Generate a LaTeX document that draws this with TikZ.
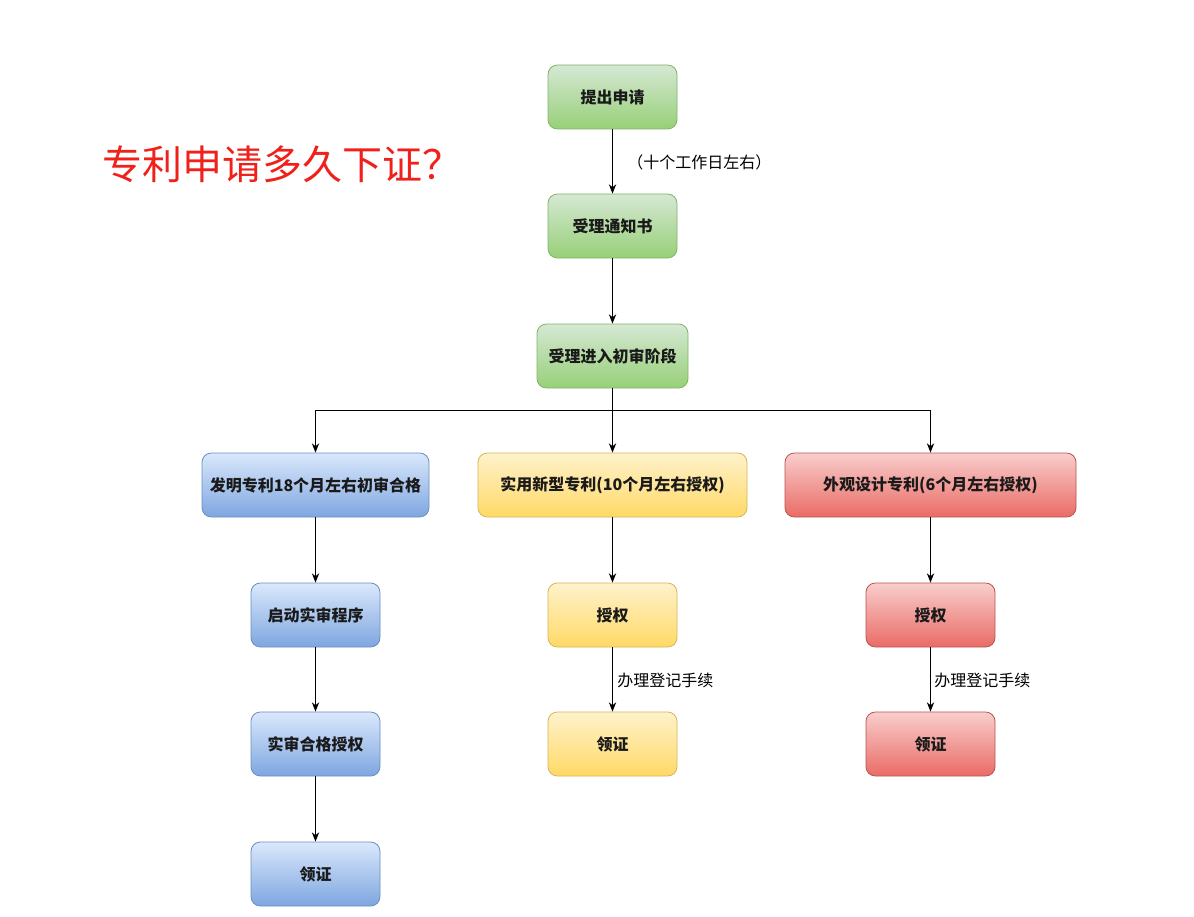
\documentclass[tikz,border=0pt]{standalone}
\usepackage{fontspec}
\setmainfont{Noto Sans CJK SC}
\usetikzlibrary{arrows.meta}
\definecolor{gT}{HTML}{D5E8D4}\definecolor{gB}{HTML}{97D077}\definecolor{gD}{HTML}{82B366}
\definecolor{bT}{HTML}{DAE8FC}\definecolor{bB}{HTML}{7EA6E0}\definecolor{bD}{HTML}{6C8EBF}
\definecolor{yT}{HTML}{FFF2CC}\definecolor{yB}{HTML}{FFD966}\definecolor{yD}{HTML}{D6B656}
\definecolor{rT}{HTML}{F8CECC}\definecolor{rB}{HTML}{EA6B66}\definecolor{rD}{HTML}{B85450}
\definecolor{titlered}{HTML}{F0201A}
\definecolor{txt}{HTML}{1A1A1A}
\tikzset{
  box/.style={rounded corners=7pt, minimum height=48pt, minimum width=96.75pt, inner sep=0pt,
    font=\fontsize{12pt}{14pt}\selectfont\bfseries, text=txt, line width=0.6pt},
  gbox/.style={box, draw=gD, top color=gT, bottom color=gB},
  bbox/.style={box, draw=bD, top color=bT, bottom color=bB},
  ybox/.style={box, draw=yD, top color=yT, bottom color=yB},
  rbox/.style={box, draw=rD, top color=rT, bottom color=rB},
  arr/.style={-{Stealth[length=7pt,width=5.5pt]}, line width=0.7pt, black},
  lab/.style={font=\fontsize{12pt}{14pt}\selectfont, text=black, inner sep=0pt, anchor=west},
}
\begin{document}
\begin{tikzpicture}[x=0.75pt,y=-0.75pt]
\useasboundingbox (0,0) rectangle (1194,916);
\fill[white] (0,0) rectangle (1194,916);
\node[anchor=west, inner sep=0pt, text=titlered, font=\fontsize{30pt}{33pt}\selectfont] (title) at (102,164) {专利申请多久下证？};

\node[gbox] (apply) at (612.5,97) {提出申请};
\node[gbox] (notice) at (612.5,226) {受理通知书};
\node[gbox, minimum width=113.25pt] (prelim) at (612.5,356) {受理进入初审阶段};

\node[bbox, minimum width=170.25pt] (inv) at (315.5,485) {发明专利18个月左右初审合格};
\node[ybox, minimum width=201.75pt] (util) at (612.5,485) {实用新型专利(10个月左右授权)};
\node[rbox, minimum width=218.25pt] (des) at (930.5,485) {外观设计专利(6个月左右授权)};

\node[bbox] (inv1) at (315.5,615) {启动实审程序};
\node[bbox] (inv2) at (315.5,744) {实审合格授权};
\node[bbox] (inv3) at (315.5,874) {领证};

\node[ybox] (util1) at (612.5,615) {授权};
\node[ybox] (util2) at (612.5,744) {领证};

\node[rbox] (des1) at (930.5,615) {授权};
\node[rbox] (des2) at (930.5,744) {领证};

\draw[arr] (apply) -- (notice);
\node[lab] (l1) at (627,162) {（十个工作日左右）};
\draw[arr] (notice) -- (prelim);

\coordinate (br) at (612.5,410);
\draw[arr] (prelim) -- (util);
\draw[arr] (br) -| (inv);
\draw[arr] (br) -| (des);

\draw[arr] (inv) -- (inv1);
\draw[arr] (inv1) -- (inv2);
\draw[arr] (inv2) -- (inv3);

\draw[arr] (util) -- (util1);
\draw[arr] (util1) -- (util2);
\node[lab] (l2) at (617,680) {办理登记手续};

\draw[arr] (des) -- (des1);
\draw[arr] (des1) -- (des2);
\node[lab] (l3) at (934,680) {办理登记手续};
\end{tikzpicture}
\end{document}
